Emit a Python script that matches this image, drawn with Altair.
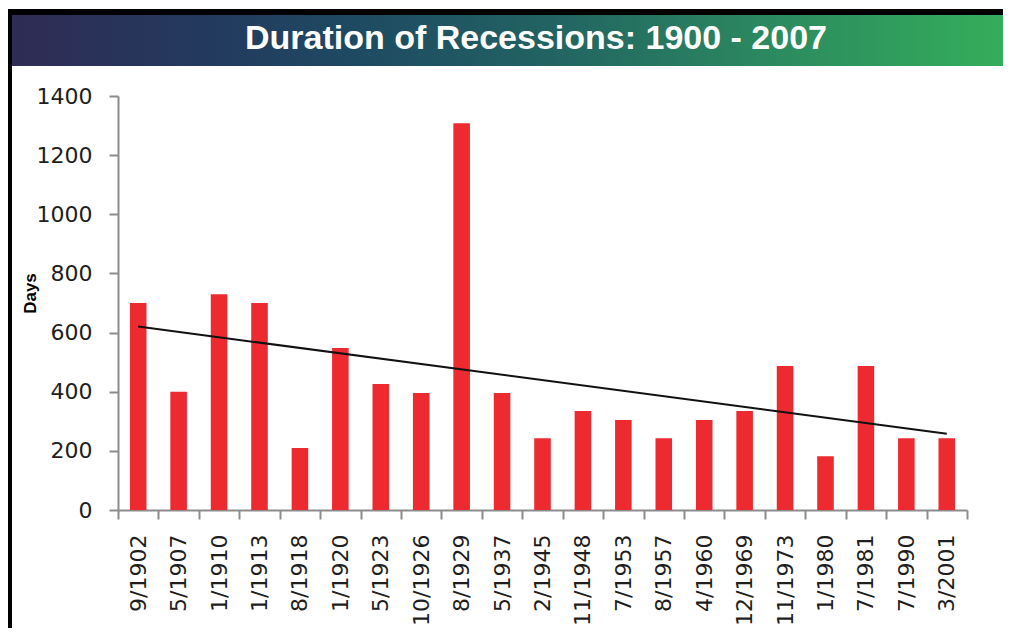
import json
import altair as alt
import pandas as pd

labels = ["9/1902", "5/1907", "1/1910", "1/1913", "8/1918", "1/1920", "5/1923",
          "10/1926", "8/1929", "5/1937", "2/1945", "11/1948", "7/1953", "8/1957",
          "4/1960", "12/1969", "11/1973", "1/1980", "7/1981", "7/1990", "3/2001"]
days = [700, 400, 730, 700, 210, 548, 426, 396, 1308, 396, 243, 335, 304, 243,
        304, 335, 487, 182, 487, 243, 243]
y_ticks = [0, 200, 400, 600, 800, 1000, 1200, 1400]
title_text = "Duration of Recessions: 1900 - 2007"

df = pd.DataFrame({"idx": list(range(len(labels))), "label": labels, "days": days})

W, H = 849, 414
PL, PT, PR, PB = 110, 88, 36, 118

xscale = alt.Scale(domain=labels, paddingInner=0, paddingOuter=0)
yscale = alt.Scale(domain=[0, 1400], nice=False)

xaxis = alt.Axis(title=None, labelAngle=270, labelAlign="right", labelBaseline="middle",
                 labelPadding=15, tickBand="extent", tickSize=9, tickWidth=2, domainWidth=2,
                 domainColor="#8c8c8c", tickColor="#8c8c8c", labelColor="#1e1e1e",
                 labelFont="DejaVu Sans", labelFontSize=22, labelOverlap=False, labelBound=False)
yaxis = alt.Axis(title="Days", values=y_ticks, format="d", grid=False, tickSize=9, tickWidth=2,
                 domainWidth=2, domainColor="#8c8c8c", tickColor="#8c8c8c", labelColor="#1e1e1e",
                 labelFont="DejaVu Sans", labelFontSize=22, labelPadding=17,
                 titleFont="Liberation Sans", titleFontSize=17, titleFontWeight="bold",
                 titleColor="#000000", titleX=-88, titleY=197, titleBaseline="middle",
                 titleAngle=270)

base = alt.Chart(df)

bars = base.mark_bar(color="#ED2A30", width=alt.RelativeBandSize(0.41)).encode(
    x=alt.X("label:N", scale=xscale, axis=xaxis, sort=None),
    y=alt.Y("days:Q", scale=yscale, axis=yaxis),
)

trend = base.transform_regression("idx", "days", method="linear").transform_calculate(
    label=json.dumps(labels) + "[datum.idx]"
).mark_line(color="#111111", strokeWidth=2).encode(
    x=alt.X("label:N", scale=xscale, sort=None),
    y=alt.Y("days:Q", scale=yscale),
)

one = alt.Data(values=[{"a": 1}])

grad = alt.LinearGradient(
    gradient="linear", x1=0, x2=1, y1=0, y2=0,
    stops=[alt.GradientStop(color="#2f2c55", offset=0),
           alt.GradientStop(color="#233a5e", offset=0.2),
           alt.GradientStop(color="#1e4a62", offset=0.35),
           alt.GradientStop(color="#226462", offset=0.55),
           alt.GradientStop(color="#2b8760", offset=0.75),
           alt.GradientStop(color="#34ae5a", offset=1)])

RIGHT = W + PR
title_bar = alt.Chart(one).mark_rect(color=grad).encode(
    x=alt.value(-106), x2=alt.value(RIGHT), y=alt.value(-81), y2=alt.value(-30))
top_band = alt.Chart(one).mark_rect(color="#000000").encode(
    x=alt.value(-110), x2=alt.value(RIGHT), y=alt.value(-87), y2=alt.value(-81))
left_band = alt.Chart(one).mark_rect(color="#000000").encode(
    x=alt.value(-110), x2=alt.value(-106), y=alt.value(-87), y2=alt.value(H + PB))
title = alt.Chart(one).mark_text(
    color="white", font="Liberation Sans", fontSize=34, fontWeight="bold",
    align="center", baseline="middle"
).encode(x=alt.value(418), y=alt.value(-57), text=alt.value(title_text))

chart = alt.layer(title_bar, top_band, left_band, title, bars, trend).properties(
    width=W, height=H,
    autosize=alt.AutoSizeParams(type="none"),
    padding={"left": PL, "top": PT, "right": PR, "bottom": PB},
    background="white",
).configure_view(strokeWidth=0)

chart.save("out.html", embed_options={"renderer": "svg", "actions": False})
